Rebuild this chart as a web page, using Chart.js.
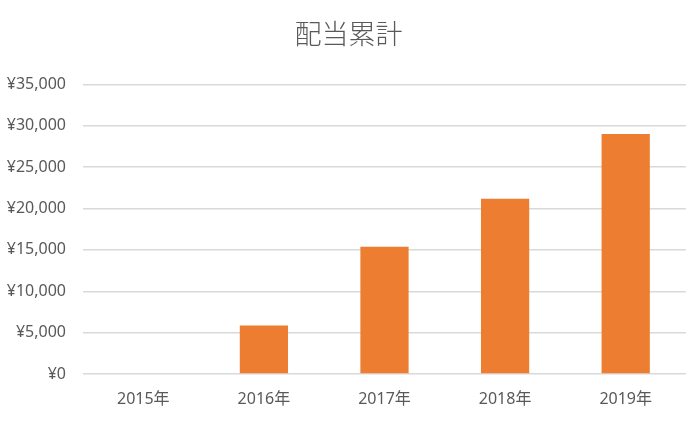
<!DOCTYPE html>
<html>
<head>
<meta charset="utf-8">
<script src="https://cdn.jsdelivr.net/npm/chart.js@4.4.1/dist/chart.umd.min.js"></script>
<style>
  html, body { margin: 0; padding: 0; background: #ffffff; }
  #wrap { width: 697px; height: 422px; position: relative; }
</style>
</head>
<body>
<div id="wrap"><canvas id="c"></canvas></div>
<script>
const categories = ['2015年', '2016年', '2017年', '2018年', '2019年'];
const dividends = [0, 5870, 15380, 21170, 29000];
const chartTitle = '配当累計';
const yMax = 35000;
const yStep = 5000;

const textColor = '#595959';
const fontFamily = "'Noto Sans', 'Noto Sans CJK JP', sans-serif";

new Chart(document.getElementById('c'), {
  type: 'bar',
  data: {
    labels: categories,
    datasets: [{
      label: chartTitle,
      data: dividends,
      backgroundColor: '#ED7D31',
      borderWidth: 0,
      barPercentage: 0.4,
      categoryPercentage: 1.0
    }]
  },
  options: {
    responsive: true,
    maintainAspectRatio: false,
    animation: false,
    devicePixelRatio: 1,
    layout: { padding: { left: 0, right: 0, top: 0, bottom: 0 } },
    plugins: {
      legend: { display: false },
      tooltip: { enabled: false },
      title: {
        display: true,
        text: chartTitle,
        color: textColor,
        font: { family: "'Noto Sans CJK JP', sans-serif", size: 27, weight: 300 },
        padding: { top: 18, bottom: 34 }
      }
    },
    scales: {
      x: {
        grid: { display: false, drawTicks: false },
        border: { display: false },
        ticks: {
          color: textColor,
          font: { family: fontFamily, size: 16 },
          padding: 16,
          maxRotation: 0
        },
        afterFit: (s) => { s.height = 48; }
      },
      y: {
        min: 0,
        max: yMax,
        grid: { color: '#D9D9D9', lineWidth: 1.5, drawTicks: false },
        border: { display: false },
        ticks: {
          stepSize: yStep,
          color: textColor,
          font: { family: fontFamily, size: 16 },
          padding: 17,
          callback: (v) => '¥' + Number(v).toLocaleString('en-US')
        },
        afterFit: (s) => { s.width = 83; }
      },
      yRight: {
        position: 'right',
        display: true,
        min: 0,
        max: yMax,
        grid: { display: false, drawTicks: false },
        border: { display: false },
        ticks: { display: false },
        afterFit: (s) => { s.width = 11; }
      }
    }
  }
});
</script>
</body>
</html>
